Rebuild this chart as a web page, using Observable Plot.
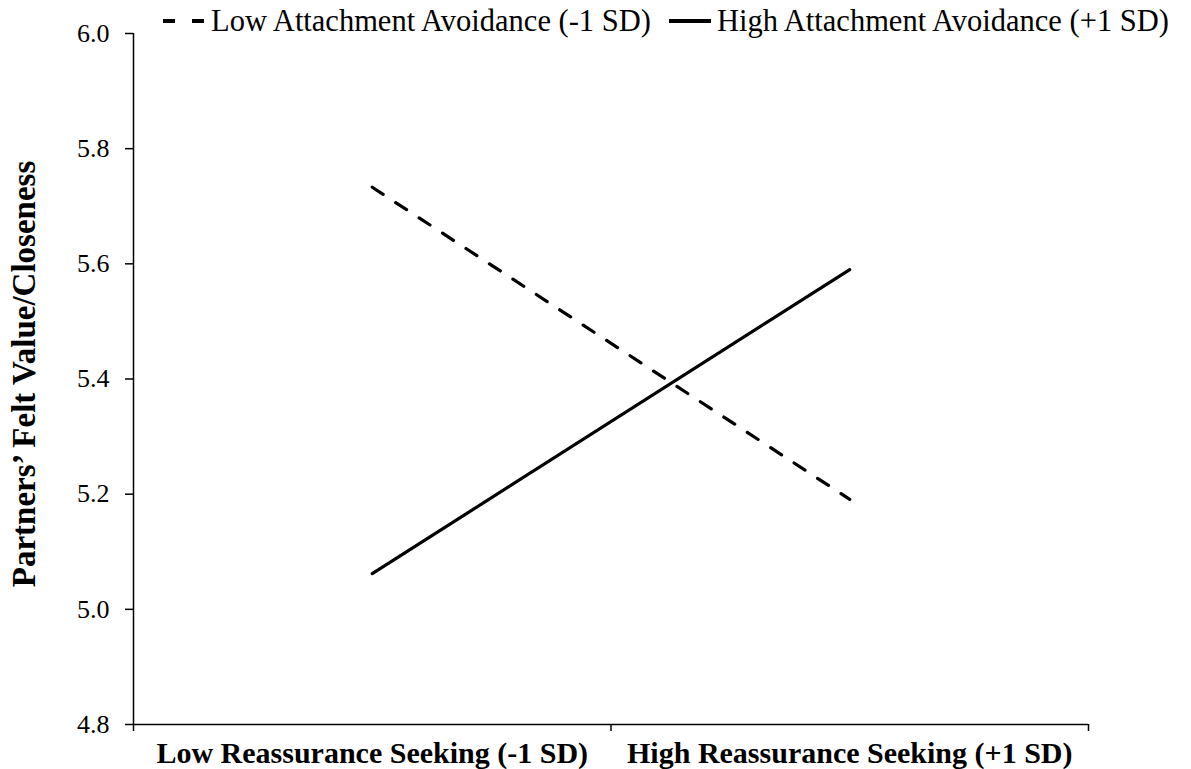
<!DOCTYPE html>
<html>
<head>
<meta charset="utf-8">
<script src="https://cdn.jsdelivr.net/npm/d3@7"></script>
<script src="https://cdn.jsdelivr.net/npm/@observablehq/plot@0.6"></script>
<style>
  html, body { margin: 0; padding: 0; background: #fff; }
  #wrap { position: relative; width: 1191px; height: 769px; font-family: "Liberation Serif", "Times New Roman", serif; }
  #chart svg, #chart svg text { font-family: "Liberation Serif", "Times New Roman", serif !important; }
  #legend { position: absolute; top: 6px; left: 163px; display: flex; align-items: center; font-size: 30.5px; line-height: 30px; color: #000; white-space: nowrap; }
  #legend .item { display: flex; align-items: center; margin-right: 18px; }
  #legend svg { margin-right: 6px; }
</style>
</head>
<body>
<div id="wrap">
  <div id="chart"></div>
  <div id="legend"></div>
</div>
<script>
const categories = ["Low Reassurance Seeking (-1 SD)", "High Reassurance Seeking (+1 SD)"];
const seriesNames = ["Low Attachment Avoidance (-1 SD)", "High Attachment Avoidance (+1 SD)"];
const lowAvoidance = [5.733, 5.191];
const highAvoidance = [5.062, 5.590];
const yTicks = [4.8, 5.0, 5.2, 5.4, 5.6, 5.8, 6.0];
const yLabel = "Partners\u2019 Felt Value/Closeness";

const data = [];
categories.forEach((c, i) => {
  data.push({series: seriesNames[0], pos: i + 0.5, value: lowAvoidance[i]});
  data.push({series: seriesNames[1], pos: i + 0.5, value: highAvoidance[i]});
});

const font = "'Liberation Serif', 'Times New Roman', serif";

const chart = Plot.plot({
  width: 1191,
  height: 769,
  marginLeft: 133,
  marginRight: 103,
  marginTop: 33,
  marginBottom: 45,
  style: {fontFamily: font, fontSize: "26px", color: "#000", background: "#fff"},
  x: {domain: [0, categories.length], axis: null},
  y: {domain: [4.8, 6.0], axis: null},
  marks: [
    Plot.axisY({ticks: yTicks, tickSize: 8, tickPadding: 16, tickFormat: d => d.toFixed(1), fontSize: 26, fontFamily: font, label: null, stroke: "#000", strokeWidth: 1.5}),
    Plot.axisX({ticks: d3.range(categories.length + 1), tickSize: 7, tickFormat: () => "", label: null, stroke: "#000", strokeWidth: 1.5}),
    Plot.axisX({ticks: categories.map((c, i) => i + 0.5), tickSize: 0, tickPadding: 17, tickFormat: d => categories[Math.round(d - 0.5)], fontSize: 30, fontWeight: "bold", fontFamily: font, label: null}),
    Plot.ruleX([0], {y1: 4.8, y2: 6.0, stroke: "#000", strokeWidth: 1.5}),
    Plot.ruleY([4.8], {x1: 0, x2: categories.length, stroke: "#000", strokeWidth: 1.5}),
    Plot.text([yLabel], {frameAnchor: "left", textAnchor: "middle", dx: -109, dy: -5, rotate: -90, fontSize: 33, fontWeight: "bold", fontFamily: font, text: d => d}),
    Plot.line(data.filter(d => d.series === seriesNames[0]), {x: "pos", y: "value", stroke: "#000", strokeWidth: 3.2, strokeDasharray: "13,15", strokeLinecap: "round"}),
    Plot.line(data.filter(d => d.series === seriesNames[1]), {x: "pos", y: "value", stroke: "#000", strokeWidth: 3.2, strokeLinecap: "round"})
  ]
});
document.getElementById("chart").appendChild(chart);

const legend = document.getElementById("legend");
seriesNames.forEach((name, i) => {
  const item = document.createElement("div");
  item.className = "item";
  const dash = i === 0 ? 'stroke-dasharray="12,17"' : "";
  item.innerHTML = `<svg width="42" height="10"><line x1="0" y1="5" x2="42" y2="5" stroke="#000" stroke-width="4" ${dash}/></svg><span>${name}</span>`;
  legend.appendChild(item);
});
</script>
</body>
</html>
